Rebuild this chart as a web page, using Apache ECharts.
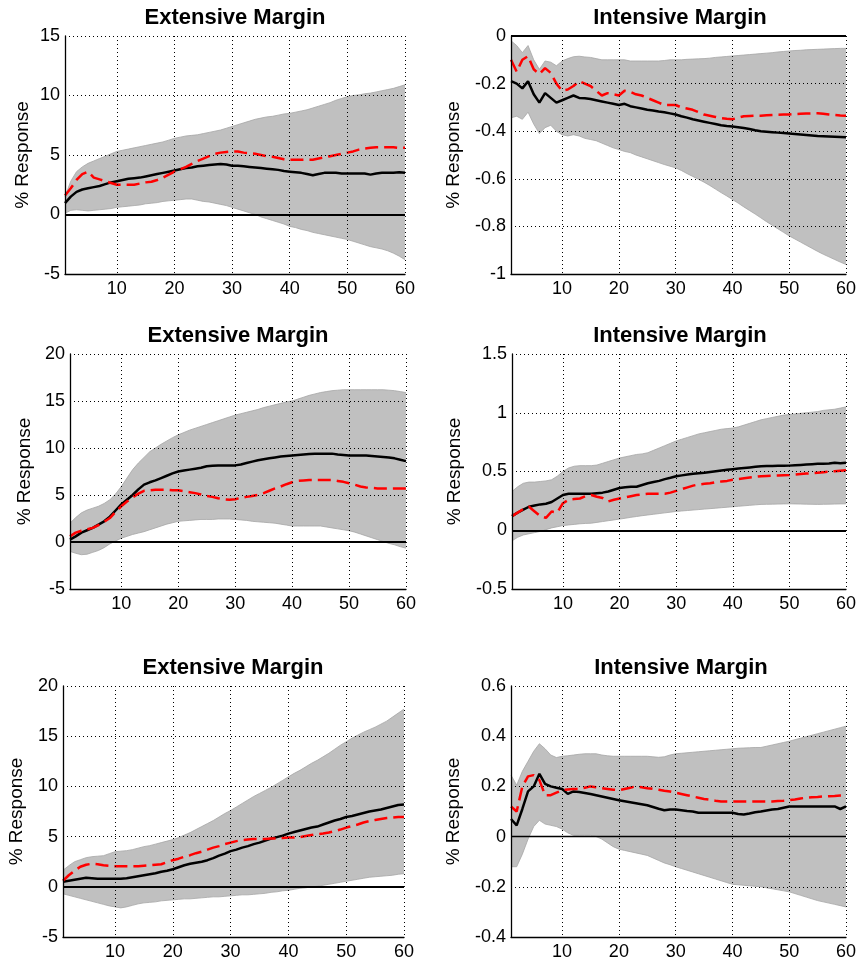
<!DOCTYPE html>
<html><head><meta charset="utf-8">
<script src="https://cdn.jsdelivr.net/npm/echarts@6/dist/echarts.min.js"></script>
<style>html,body{margin:0;padding:0;background:#fff}#c{width:859px;height:965px}</style>
</head><body><div id="c"></div><script>
const horizons = [1,2,3,4,5,6,7,8,9,10,11,12,13,14,15,16,17,18,19,20,21,22,23,24,25,26,27,28,29,30,31,32,33,34,35,36,37,38,39,40,41,42,43,44,45,46,47,48,49,50,51,52,53,54,55,56,57,58,59,60];
const xTickValues = [10,20,30,40,50,60];
const panelTitles = ['Extensive Margin','Intensive Margin','Extensive Margin','Intensive Margin','Extensive Margin','Intensive Margin'];
const yAxisName = '% Response';
const yMins = [-5,-1,-5,-0.5,-5,-0.4];
const yMaxs = [15,0,20,1.5,20,0.6];
const ySteps = [5,0.2,5,0.5,5,0.2];

// Panel 1: Extensive Margin (top)
const upper1 = [1.5,2.8,3.6,4.0,4.3,4.5,4.7,4.9,5.1,5.3,5.4,5.5,5.6,5.7,5.8,5.9,6.0,6.1,6.25,6.4,6.5,6.6,6.65,6.7,6.8,6.9,7.0,7.1,7.25,7.4,7.55,7.7,7.85,8.0,8.1,8.2,8.25,8.35,8.45,8.5,8.6,8.7,8.8,8.95,9.1,9.25,9.4,9.6,9.75,9.9,10.0,10.05,10.15,10.2,10.3,10.4,10.5,10.6,10.75,10.9];
const lower1 = [0.1,0.35,0.4,0.35,0.3,0.35,0.4,0.45,0.5,0.6,0.65,0.7,0.75,0.8,0.9,0.95,1.0,1.1,1.15,1.2,1.25,1.3,1.3,1.2,1.1,1.05,0.95,0.85,0.75,0.6,0.45,0.3,0.15,0.0,-0.2,-0.35,-0.5,-0.65,-0.8,-1.0,-1.1,-1.25,-1.35,-1.5,-1.6,-1.7,-1.8,-1.9,-2.0,-2.1,-2.25,-2.4,-2.55,-2.7,-2.8,-2.9,-3.05,-3.25,-3.5,-3.8];
const black1 = [0.95,1.5,1.9,2.1,2.2,2.3,2.4,2.55,2.7,2.8,2.9,3.0,3.05,3.1,3.2,3.3,3.4,3.5,3.6,3.7,3.8,3.9,3.95,4.05,4.1,4.15,4.2,4.25,4.2,4.1,4.1,4.05,4.0,3.95,3.9,3.85,3.8,3.75,3.65,3.6,3.55,3.5,3.4,3.3,3.4,3.5,3.5,3.5,3.45,3.45,3.45,3.45,3.45,3.35,3.45,3.5,3.5,3.5,3.55,3.5];
const red1 = [1.6,2.2,2.9,3.4,3.6,3.1,2.95,2.8,2.65,2.5,2.5,2.5,2.5,2.6,2.7,2.75,2.9,3.1,3.35,3.6,3.8,4.0,4.25,4.5,4.7,4.9,5.1,5.2,5.25,5.3,5.3,5.2,5.15,5.1,5.0,4.9,4.85,4.75,4.65,4.6,4.6,4.6,4.6,4.6,4.7,4.8,4.9,5.0,5.1,5.2,5.3,5.45,5.55,5.6,5.65,5.65,5.65,5.65,5.6,5.6];

// Panel 2: Intensive Margin (top)
const upper2 = [-0.02,-0.04,-0.07,-0.04,-0.1,-0.14,-0.105,-0.11,-0.125,-0.105,-0.095,-0.087,-0.085,-0.088,-0.09,-0.095,-0.1,-0.1,-0.1,-0.1,-0.1,-0.105,-0.105,-0.105,-0.105,-0.105,-0.105,-0.103,-0.1,-0.1,-0.1,-0.098,-0.097,-0.096,-0.095,-0.093,-0.09,-0.088,-0.086,-0.084,-0.082,-0.08,-0.078,-0.076,-0.074,-0.072,-0.07,-0.067,-0.065,-0.063,-0.061,-0.06,-0.058,-0.057,-0.056,-0.055,-0.054,-0.053,-0.052,-0.052];
const lower2 = [-0.344,-0.337,-0.35,-0.32,-0.37,-0.41,-0.385,-0.375,-0.4,-0.415,-0.42,-0.415,-0.42,-0.43,-0.435,-0.44,-0.45,-0.46,-0.47,-0.477,-0.485,-0.49,-0.5,-0.508,-0.516,-0.524,-0.532,-0.54,-0.547,-0.554,-0.565,-0.578,-0.59,-0.602,-0.614,-0.628,-0.643,-0.658,-0.672,-0.687,-0.702,-0.718,-0.733,-0.748,-0.764,-0.78,-0.795,-0.81,-0.825,-0.84,-0.853,-0.866,-0.879,-0.892,-0.905,-0.917,-0.928,-0.939,-0.95,-0.96];
const black2 = [-0.19,-0.2,-0.22,-0.19,-0.245,-0.28,-0.24,-0.26,-0.28,-0.27,-0.26,-0.25,-0.26,-0.262,-0.265,-0.27,-0.275,-0.28,-0.285,-0.29,-0.285,-0.295,-0.3,-0.305,-0.31,-0.313,-0.317,-0.32,-0.325,-0.33,-0.337,-0.343,-0.35,-0.355,-0.36,-0.365,-0.37,-0.375,-0.378,-0.38,-0.383,-0.387,-0.391,-0.396,-0.4,-0.402,-0.404,-0.406,-0.408,-0.41,-0.412,-0.414,-0.416,-0.418,-0.42,-0.421,-0.422,-0.423,-0.424,-0.425];
const red2 = [-0.1,-0.15,-0.1,-0.085,-0.14,-0.16,-0.135,-0.155,-0.2,-0.23,-0.225,-0.21,-0.19,-0.2,-0.21,-0.23,-0.25,-0.24,-0.245,-0.25,-0.23,-0.235,-0.245,-0.25,-0.26,-0.27,-0.28,-0.29,-0.29,-0.29,-0.3,-0.305,-0.31,-0.32,-0.33,-0.335,-0.34,-0.345,-0.348,-0.35,-0.343,-0.337,-0.336,-0.335,-0.335,-0.333,-0.332,-0.331,-0.33,-0.33,-0.328,-0.327,-0.326,-0.325,-0.325,-0.327,-0.33,-0.332,-0.334,-0.335];

// Panel 3: Extensive Margin (middle)
const upper3 = [2.0,2.6,3.1,3.4,3.6,3.8,4.1,4.5,5.1,5.9,6.8,7.7,8.4,9.0,9.6,10.0,10.4,10.75,11.1,11.4,11.65,11.9,12.1,12.3,12.5,12.7,12.9,13.1,13.3,13.5,13.65,13.8,13.95,14.1,14.3,14.45,14.6,14.75,14.9,15.0,15.2,15.4,15.6,15.75,15.9,16.0,16.1,16.15,16.2,16.2,16.2,16.2,16.2,16.2,16.2,16.2,16.15,16.1,16.0,15.9];
const lower3 = [-1.0,-1.2,-1.35,-1.3,-1.1,-0.9,-0.6,-0.2,0.1,0.4,0.6,0.8,0.95,1.1,1.3,1.5,1.7,1.9,2.05,2.2,2.25,2.3,2.35,2.4,2.4,2.4,2.45,2.45,2.45,2.4,2.35,2.3,2.2,2.15,2.1,2.05,2.0,1.9,1.8,1.7,1.7,1.7,1.7,1.7,1.7,1.6,1.5,1.4,1.3,1.2,1.05,0.85,0.65,0.45,0.25,0.05,-0.15,-0.3,-0.5,-0.65];
const black3 = [0.25,0.6,1.0,1.25,1.5,1.85,2.2,2.7,3.35,4.0,4.5,5.0,5.6,6.1,6.35,6.55,6.8,7.05,7.3,7.5,7.6,7.7,7.8,7.9,8.05,8.1,8.15,8.15,8.15,8.15,8.25,8.4,8.55,8.7,8.8,8.9,9.0,9.1,9.15,9.2,9.25,9.3,9.35,9.4,9.4,9.4,9.4,9.3,9.25,9.2,9.2,9.2,9.2,9.15,9.1,9.05,9.0,8.9,8.75,8.6];
const red3 = [0.6,1.0,1.2,1.35,1.5,1.8,2.15,2.55,3.2,3.8,4.3,4.75,5.15,5.45,5.5,5.55,5.55,5.55,5.5,5.5,5.4,5.3,5.2,5.05,4.9,4.8,4.65,4.55,4.5,4.55,4.7,4.8,4.9,5.0,5.2,5.45,5.7,5.9,6.15,6.35,6.5,6.55,6.6,6.6,6.6,6.6,6.6,6.5,6.4,6.25,6.1,5.9,5.8,5.75,5.7,5.7,5.7,5.7,5.7,5.7];

// Panel 4: Intensive Margin (middle)
const upper4 = [0.33,0.37,0.40,0.41,0.41,0.415,0.42,0.43,0.46,0.50,0.53,0.545,0.55,0.55,0.55,0.555,0.57,0.585,0.60,0.615,0.625,0.635,0.645,0.65,0.66,0.68,0.70,0.72,0.74,0.76,0.775,0.79,0.805,0.82,0.83,0.84,0.85,0.86,0.865,0.87,0.88,0.895,0.91,0.925,0.94,0.95,0.96,0.97,0.98,0.985,0.99,0.995,1.0,1.005,1.01,1.02,1.025,1.03,1.04,1.05];
const lower4 = [-0.09,-0.06,-0.04,-0.03,-0.02,-0.01,0.005,0.02,0.03,0.04,0.045,0.05,0.055,0.058,0.06,0.067,0.074,0.081,0.088,0.095,0.102,0.11,0.117,0.124,0.13,0.136,0.142,0.148,0.154,0.16,0.164,0.168,0.172,0.176,0.18,0.184,0.188,0.192,0.196,0.2,0.204,0.208,0.212,0.216,0.22,0.221,0.222,0.223,0.224,0.225,0.224,0.223,0.222,0.221,0.22,0.221,0.222,0.223,0.224,0.225];
const black4 = [0.12,0.15,0.175,0.2,0.21,0.22,0.225,0.24,0.27,0.3,0.31,0.31,0.31,0.31,0.31,0.315,0.32,0.33,0.345,0.36,0.365,0.37,0.37,0.385,0.4,0.41,0.42,0.435,0.447,0.46,0.467,0.474,0.48,0.485,0.49,0.496,0.502,0.508,0.514,0.52,0.525,0.53,0.535,0.54,0.545,0.546,0.547,0.548,0.549,0.55,0.553,0.556,0.559,0.562,0.565,0.567,0.569,0.575,0.57,0.575];
const red4 = [0.12,0.15,0.18,0.2,0.16,0.12,0.105,0.16,0.15,0.23,0.26,0.265,0.27,0.29,0.3,0.285,0.275,0.245,0.26,0.27,0.28,0.29,0.3,0.305,0.31,0.31,0.31,0.31,0.32,0.335,0.35,0.365,0.38,0.39,0.395,0.4,0.41,0.415,0.42,0.43,0.436,0.442,0.448,0.454,0.46,0.462,0.464,0.466,0.468,0.47,0.474,0.478,0.482,0.486,0.49,0.494,0.498,0.502,0.506,0.51];

// Panel 5: Extensive Margin (bottom)
const upper5 = [1.65,2.1,2.5,2.7,2.9,3.0,3.05,3.1,3.3,3.5,3.55,3.6,3.7,3.85,4.0,4.1,4.25,4.4,4.55,4.7,4.9,5.15,5.4,5.7,6.0,6.3,6.6,6.95,7.3,7.6,7.95,8.3,8.65,9.0,9.3,9.6,9.9,10.25,10.6,10.95,11.3,11.6,11.95,12.3,12.6,12.95,13.3,13.7,14.1,14.45,14.8,15.1,15.4,15.65,15.9,16.2,16.5,16.9,17.3,17.7];
const lower5 = [-0.7,-0.85,-1.0,-1.15,-1.3,-1.45,-1.6,-1.75,-1.9,-2.0,-2.1,-2.0,-1.85,-1.7,-1.6,-1.55,-1.5,-1.4,-1.35,-1.3,-1.25,-1.2,-1.2,-1.15,-1.1,-1.05,-1.0,-1.0,-0.95,-0.9,-0.85,-0.8,-0.8,-0.75,-0.7,-0.65,-0.55,-0.5,-0.4,-0.35,-0.25,-0.15,-0.1,0.0,0.05,0.15,0.25,0.35,0.45,0.55,0.65,0.75,0.85,0.95,1.0,1.05,1.1,1.15,1.25,1.3];
const black5 = [0.5,0.6,0.7,0.8,0.9,0.85,0.8,0.8,0.8,0.8,0.8,0.85,0.95,1.05,1.15,1.25,1.35,1.5,1.6,1.75,1.95,2.15,2.3,2.4,2.5,2.65,2.85,3.1,3.3,3.55,3.7,3.9,4.05,4.25,4.4,4.6,4.8,4.95,5.1,5.3,5.45,5.6,5.75,5.9,6.0,6.2,6.4,6.6,6.75,6.95,7.05,7.2,7.35,7.5,7.6,7.7,7.85,8.0,8.15,8.2];
const red5 = [0.6,1.15,1.6,2.0,2.2,2.3,2.25,2.15,2.1,2.05,2.05,2.05,2.05,2.05,2.1,2.15,2.2,2.25,2.45,2.65,2.8,3.0,3.15,3.35,3.5,3.7,3.9,4.05,4.25,4.4,4.55,4.65,4.7,4.75,4.75,4.75,4.8,4.8,4.85,4.9,4.9,4.95,5.05,5.15,5.25,5.3,5.4,5.55,5.7,5.9,6.05,6.2,6.4,6.55,6.65,6.75,6.85,6.9,6.95,6.95];

// Panel 6: Intensive Margin (bottom)
const upper6 = [0.245,0.205,0.26,0.30,0.34,0.37,0.35,0.325,0.315,0.32,0.322,0.325,0.328,0.33,0.33,0.33,0.325,0.322,0.32,0.32,0.32,0.32,0.32,0.32,0.32,0.318,0.316,0.318,0.325,0.33,0.332,0.334,0.336,0.338,0.34,0.342,0.344,0.346,0.348,0.35,0.352,0.353,0.354,0.355,0.355,0.36,0.365,0.37,0.375,0.38,0.386,0.392,0.398,0.404,0.41,0.416,0.422,0.428,0.434,0.44];
const lower6 = [-0.12,-0.12,-0.07,-0.01,0.04,0.065,0.05,0.045,0.04,0.03,0.015,0.005,0.005,0.005,0.005,0.0,-0.01,-0.025,-0.04,-0.05,-0.055,-0.06,-0.065,-0.07,-0.075,-0.085,-0.095,-0.105,-0.112,-0.12,-0.127,-0.134,-0.141,-0.148,-0.155,-0.162,-0.169,-0.176,-0.183,-0.19,-0.192,-0.194,-0.196,-0.198,-0.2,-0.204,-0.208,-0.212,-0.216,-0.22,-0.227,-0.234,-0.241,-0.248,-0.255,-0.26,-0.265,-0.27,-0.275,-0.28];
const black6 = [0.07,0.045,0.11,0.18,0.2,0.25,0.21,0.2,0.195,0.19,0.17,0.18,0.178,0.174,0.17,0.165,0.16,0.155,0.15,0.145,0.141,0.137,0.133,0.129,0.125,0.118,0.111,0.105,0.108,0.108,0.105,0.102,0.1,0.095,0.095,0.095,0.095,0.095,0.095,0.095,0.09,0.088,0.092,0.097,0.1,0.104,0.108,0.11,0.115,0.12,0.12,0.12,0.12,0.12,0.12,0.12,0.12,0.12,0.11,0.12];
const red6 = [0.12,0.1,0.2,0.24,0.245,0.225,0.165,0.165,0.175,0.185,0.188,0.19,0.19,0.195,0.2,0.197,0.193,0.19,0.187,0.185,0.19,0.195,0.2,0.197,0.193,0.19,0.187,0.183,0.18,0.175,0.17,0.165,0.16,0.155,0.15,0.147,0.143,0.14,0.14,0.14,0.14,0.14,0.14,0.14,0.14,0.14,0.14,0.142,0.143,0.145,0.148,0.152,0.155,0.157,0.158,0.16,0.161,0.162,0.164,0.165];

const uppers = [upper1,upper2,upper3,upper4,upper5,upper6];
const lowers = [lower1,lower2,lower3,lower4,lower5,lower6];
const blacks = [black1,black2,black3,black4,black5,black6];
const reds = [red1,red2,red3,red4,red5,red6];

// layout (pixels)
const boxes = [
  {left:65, top:36, width:340, height:238, gap:33, tx:235, ty:7},
  {left:511, top:36, width:338, height:238, gap:48, tx:680, ty:7},
  {left:70, top:354, width:336, height:235, gap:36, tx:238, ty:325},
  {left:512, top:354, width:336, height:235, gap:48, tx:680, ty:325},
  {left:63, top:686, width:341, height:251, gap:37, tx:233, ty:657},
  {left:511, top:686, width:341, height:251, gap:48, tx:681, ty:657}
];

const FONT = 'Liberation Sans, Arial, Helvetica, sans-serif';
const isTick = (index) => xTickValues.indexOf(horizons[index]) >= 0;
const grids=[], xAxes=[], yAxes=[], series=[], titles=[];

boxes.forEach((b,i)=>{
  grids.push({left:b.left, top:b.top, width:b.width, height:b.height, containLabel:false});
  titles.push({text:panelTitles[i], left:b.tx, top:b.ty, textAlign:'center',
    padding:0, textStyle:{fontFamily:FONT, fontSize:22, fontWeight:'bold', color:'#000'}});
  xAxes.push({type:'category', gridIndex:i, data:horizons.map(String), boundaryGap:false, z:5,
    axisLine:{show:true, onZero:false, lineStyle:{color:'#000', width:1.3}},
    axisTick:{show:false, interval:isTick},
    axisLabel:{interval:isTick, color:'#000', fontFamily:FONT, fontSize:18, margin:6},
    splitLine:{show:true, interval:isTick, lineStyle:{color:'#000', width:1, type:[1,3]}}});
  yAxes.push({type:'value', gridIndex:i, min:yMins[i], max:yMaxs[i], interval:ySteps[i], z:5,
    name:yAxisName, nameLocation:'middle', nameGap:b.gap,
    nameTextStyle:{fontFamily:FONT, fontSize:19, color:'#000'},
    axisLine:{show:true, onZero:false, lineStyle:{color:'#000', width:1.3}},
    axisTick:{show:false},
    axisLabel:{color:'#000', fontFamily:FONT, fontSize:18, margin:5},
    splitLine:{show:true, lineStyle:{color:'#000', width:1, type:[1,3]}}});
  const stackId = 'band'+i;
  series.push({type:'line', xAxisIndex:i, yAxisIndex:i, stack:stackId, stackStrategy:'all',
    data:lowers[i], symbol:'none', silent:true,
    lineStyle:{color:'#a6a6a6', width:0.8}});
  series.push({type:'line', xAxisIndex:i, yAxisIndex:i, stack:stackId, stackStrategy:'all',
    data:uppers[i].map((v,k)=> v - lowers[i][k]), symbol:'none', silent:true,
    lineStyle:{color:'#a6a6a6', width:0.8}, areaStyle:{color:'#c0c0c0', opacity:1}});
  series.push({type:'line', xAxisIndex:i, yAxisIndex:i, data:blacks[i], symbol:'none',
    lineStyle:{color:'#000', width:2.5}, z:3,
    markLine:{silent:true, symbol:'none', label:{show:false},
      lineStyle:{color:'#000', width: i===5 ? 1.3 : 2, type:'solid'}, data:[{yAxis:0}]}});
  series.push({type:'line', xAxisIndex:i, yAxisIndex:i, data:reds[i], symbol:'none',
    lineStyle:{color:'#ff0000', width:2.5, type:[13,6]}, z:4});
});

const chart = echarts.init(document.getElementById('c'), null, {renderer:'canvas'});
chart.setOption({backgroundColor:'#fff', animation:false, title:titles, grid:grids,
  xAxis:xAxes, yAxis:yAxes, series:series});
</script></body></html>
